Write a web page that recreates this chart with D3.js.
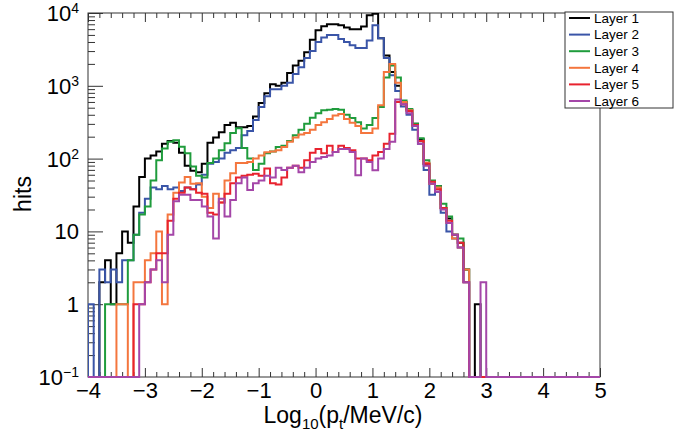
<!DOCTYPE html>
<html>
<head>
<meta charset="utf-8">
<script src="https://cdn.jsdelivr.net/npm/d3@7"></script>
<style>
body { margin: 0; background: #fff; }
svg { display: block; font-family: "Liberation Sans", Arial, sans-serif; }
</style>
</head>
<body>
<svg width="674" height="435"></svg>
<script>
// histogram: 90 bins of 0.1 from -4 to 5 (log10 pt)
var layerNames = ["Layer 1", "Layer 2", "Layer 3", "Layer 4", "Layer 5", "Layer 6"];
var layerColors = ["#000000", "#3a55a8", "#1f9c3c", "#f4763e", "#e8222e", "#a446a8"];

var layer1 = [0,0,2,4,1,5,10,7,22,56, 100,110,125,160,175,165,120,80,68,65,
  85,165,195,230,290,310,270,270,280,380, 580,790,1050,1000,1100,1500,1900,2200,2900,4300,
  5800,6600,7000,7000,6800,6300,6000,6000,6500,9300, 9800,4500,2600,1550,1000,600,470,300,185,85,
  45,42,21,15,9,7,3,0,1,0, 0,0,0,0,0,0,0,0,0,0, 0,0,0,0,0,0,0,0,0,0];
var layer2 = [1,0,3,2,3,2,4,4,9,18, 28,40,38,42,38,40,36,40,38,44,
  60,85,90,100,120,130,140,210,240,340, 510,720,900,900,1000,1100,1450,1800,2400,3000,
  4000,4600,5000,5000,4400,4000,3600,3300,3300,4200, 6800,4500,2400,1400,850,520,400,250,160,70,
  32,35,18,10,8,6,2,0,0,0, 0,0,0,0,0,0,0,0,0,0, 0,0,0,0,0,0,0,0,0,0];
var layer3 = [0,0,0,1,1,1,1,4,9,17, 22,50,95,138,170,178,145,118,78,58,
  55,87,100,130,163,225,262,140,100,70, 85,118,125,144,150,175,210,250,300,365,
  420,460,470,480,470,400,360,315,260,290, 360,510,1300,1900,1300,630,480,300,190,95,
  50,42,24,16,9,8,3,0,0,0, 0,0,0,0,0,0,0,0,0,0, 0,0,0,0,0,0,0,0,0,0];
var layer4 = [0,0,0,0,0,1,1,0,2,2, 4,5,10,1,17,34,47,56,45,46,
  30,21,33,25,50,63,87,87,90,100, 110,122,125,130,144,170,195,215,225,250,
  290,315,350,390,410,350,310,280,225,225, 260,540,1550,2000,1100,600,460,280,175,88,
  45,40,21,13,8,6,3,0,0,0, 0,0,0,0,0,0,0,0,0,0, 0,0,0,0,0,0,0,0,0,0];
var layer5 = [0,0,0,0,0,0,0,0,1,1, 2,3,5,5,14,28,34,40,38,34,
  33,18,17,25,33,46,55,58,60,62, 58,73,46,44,55,75,80,75,95,120,
  135,118,150,123,150,140,130,100,100,95, 110,123,160,220,600,560,450,290,175,85,
  48,38,21,14,9,7,2,0,0,0, 0,0,0,0,0,0,0,0,0,0, 0,0,0,0,0,0,0,0,0,0];
var layer6 = [0,0,0,0,0,0,0,0,0,1, 2,3,4,2,9,26,32,32,27,27,
  22,16,8,28,16,27,46,55,37,46, 50,58,55,75,70,75,80,65,75,90,
  100,105,110,123,135,135,123,59,100,90, 69,100,135,170,650,560,420,280,160,80,
  45,35,20,13,9,6,2,0,0,2, 0,0,0,0,0,0,0,0,0,0, 0,0,0,0,0,0,0,0,0,0];
var layers = [layer1, layer2, layer3, layer4, layer5, layer6];

var xTicks = [-4, -3, -2, -1, 0, 1, 2, 3, 4, 5];
var yTicks = [0.1, 1, 10, 100, 1000, 10000];
var yTickBase = ["10", "1", "10", "10", "10", "10"];
var yTickExp = ["\u22121", "", "", "2", "3", "4"];

var svg = d3.select("svg");
var plotL = 88, plotR = 600, plotT = 13, plotB = 377;

var x = d3.scaleLinear().domain([-4, 5]).range([plotL, plotR]);
var y = d3.scaleLog().domain([0.1, 10000]).range([plotB, plotT]);

// frame
svg.append("rect")
  .attr("x", plotL).attr("y", plotT)
  .attr("width", plotR - plotL).attr("height", plotB - plotT)
  .attr("fill", "none").attr("stroke", "#333").attr("stroke-width", 1);

// x axis bottom with labels
var minorX = d3.range(-4, 5.001, 0.2).filter(function(d) { return Math.abs(d - Math.round(d)) > 0.01; });
var gx = svg.append("g").attr("transform", "translate(0," + plotB + ")")
  .call(d3.axisBottom(x).tickValues(xTicks).tickSizeInner(-9).tickSizeOuter(0).tickPadding(5).tickFormat(d3.format("d")));
gx.select(".domain").remove();
gx.selectAll("text").attr("font-size", 22).attr("fill", "#000").attr("font-family", "Liberation Sans, Arial, sans-serif");
gx.selectAll("line").attr("stroke", "#333");
var gxm = svg.append("g").attr("transform", "translate(0," + plotB + ")")
  .call(d3.axisBottom(x).tickValues(minorX).tickSizeInner(-5).tickSizeOuter(0).tickFormat(""));
gxm.select(".domain").remove();
gxm.selectAll("line").attr("stroke", "#333");

// x axis top, ticks only
var gt = svg.append("g").attr("transform", "translate(0," + plotT + ")")
  .call(d3.axisTop(x).tickValues(xTicks).tickSizeInner(-9).tickSizeOuter(0).tickFormat(""));
gt.select(".domain").remove();
gt.selectAll("line").attr("stroke", "#333");
var gtm = svg.append("g").attr("transform", "translate(0," + plotT + ")")
  .call(d3.axisTop(x).tickValues(minorX).tickSizeInner(-5).tickSizeOuter(0).tickFormat(""));
gtm.select(".domain").remove();
gtm.selectAll("line").attr("stroke", "#333");

// y axis ticks
var minorY = [];
yTicks.slice(0, -1).forEach(function(t) {
  for (var m = 2; m <= 9; m++) minorY.push(t * m);
});
var gy = svg.append("g").attr("transform", "translate(" + plotL + ",0)")
  .call(d3.axisLeft(y).tickValues(yTicks).tickSizeInner(-15).tickSizeOuter(0).tickFormat(""));
gy.select(".domain").remove();
gy.selectAll("line").attr("stroke", "#333");
var gym = svg.append("g").attr("transform", "translate(" + plotL + ",0)")
  .call(d3.axisLeft(y).tickValues(minorY).tickSizeInner(-7).tickSizeOuter(0).tickFormat(""));
gym.select(".domain").remove();
gym.selectAll("line").attr("stroke", "#333");

// y tick labels with superscripts
yTicks.forEach(function(t, i) {
  var txt = svg.append("text")
    .attr("x", 79).attr("y", y(t) + 8)
    .attr("text-anchor", "end")
    .attr("font-size", 22)
    .attr("fill", "#000");
  txt.append("tspan").text(yTickBase[i]);
  if (yTickExp[i]) {
    txt.append("tspan").attr("font-size", 14).attr("dy", -8).text(yTickExp[i]);
  }
});

// axis titles
svg.append("text")
  .attr("transform", "translate(23,194) rotate(-90)")
  .attr("text-anchor", "middle")
  .attr("dy", "0.35em")
  .attr("font-size", 23)
  .text("hits");

var xt = svg.append("text")
  .attr("x", 343).attr("y", 423)
  .attr("text-anchor", "middle")
  .attr("font-size", 23);
xt.append("tspan").text("Log");
xt.append("tspan").attr("font-size", 15).attr("dy", 6).text("10");
xt.append("tspan").attr("dy", -6).text("(p");
xt.append("tspan").attr("font-size", 15).attr("dy", 6).text("t");
xt.append("tspan").attr("dy", -6).text("/MeV/c)");

// histograms
svg.append("clipPath").attr("id", "plotclip")
  .append("rect").attr("x", plotL).attr("y", plotT).attr("width", plotR - plotL).attr("height", plotB - plotT + 1.5);

function yv(v) { return v > 0 ? y(v) : plotB; }

var step = d3.line().curve(d3.curveStepAfter);
var hg = svg.append("g").attr("clip-path", "url(#plotclip)");

layers.forEach(function(vals, li) {
  var pts = [[x(-4), plotB]];
  vals.forEach(function(v, i) { pts.push([x(-4 + i * 0.1), yv(v)]); });
  pts.push([x(5), yv(vals[vals.length - 1])]);
  pts.push([x(5), plotB]);
  hg.append("path")
    .attr("d", step(pts))
    .attr("fill", "none")
    .attr("stroke", layerColors[li])
    .attr("stroke-width", 2);
});

// legend
var lg = svg.append("g").attr("class", "legend");
lg.append("rect")
  .attr("x", 565).attr("y", 12).attr("width", 108).attr("height", 96)
  .attr("fill", "#fff").attr("stroke", "#333").attr("stroke-width", 1);
layerNames.forEach(function(name, i) {
  var ly = 18 + i * 16.6;
  lg.append("line")
    .attr("x1", 569).attr("x2", 590).attr("y1", ly).attr("y2", ly)
    .attr("stroke", layerColors[i]).attr("stroke-width", 2);
  lg.append("text")
    .attr("x", 594).attr("y", ly).attr("dy", "0.35em")
    .attr("font-size", 13.5)
    .text(name);
});
</script>
</body>
</html>
